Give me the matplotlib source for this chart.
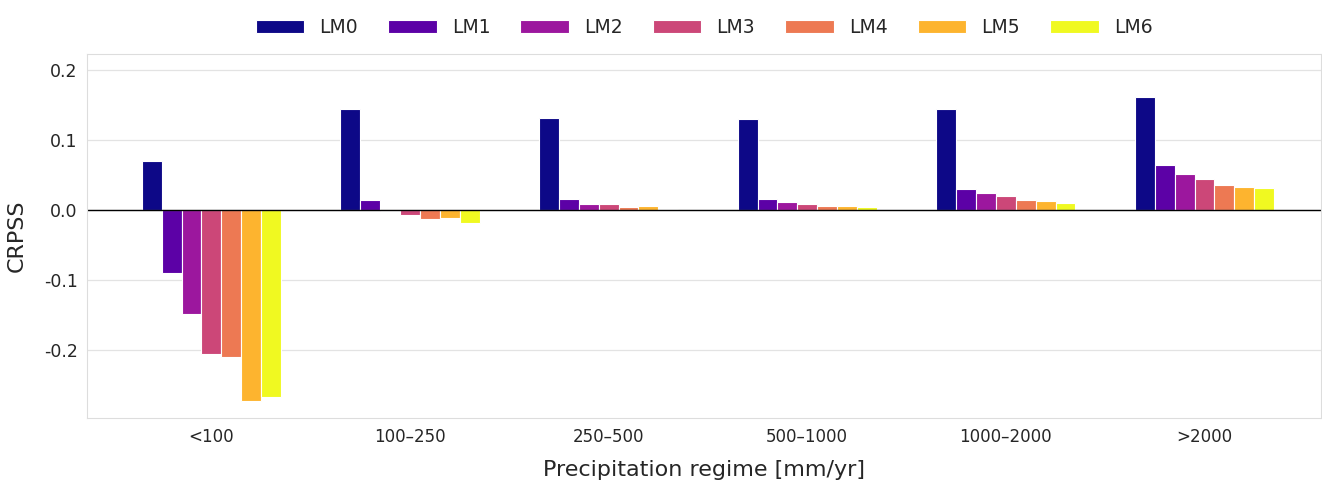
import numpy as np
import matplotlib
matplotlib.use("Agg")
import matplotlib.pyplot as plt
import seaborn as sns

# -----------------------------
# Data
# -----------------------------
regimes = ["<100", "100–250", "250–500", "500–1000", "1000–2000", ">2000"]
models = ["LM0", "LM1", "LM2", "LM3", "LM4", "LM5", "LM6"]

lm0 = [0.070, 0.144, 0.132, 0.130, 0.144, 0.161]
lm1 = [-0.090, 0.014, 0.016, 0.016, 0.030, 0.064]
lm2 = [-0.149, -0.002, 0.009, 0.011, 0.024, 0.051]
lm3 = [-0.206, -0.007, 0.008, 0.009, 0.020, 0.044]
lm4 = [-0.210, -0.013, 0.004, 0.006, 0.014, 0.036]
lm5 = [-0.273, -0.012, 0.006, 0.006, 0.013, 0.033]
lm6 = [-0.267, -0.019, 0.001, 0.004, 0.010, 0.032]
series = [lm0, lm1, lm2, lm3, lm4, lm5, lm6]

# -----------------------------
# Plot
# -----------------------------
sns.set_style("whitegrid")
plt.rcParams["font.family"] = ["DejaVu Sans"]
plt.rcParams["axes.unicode_minus"] = False

fig, ax = plt.subplots(figsize=(13.22, 4.82), dpi=100)
colors = plt.cm.plasma(np.linspace(0, 1, len(models)))

x = np.arange(len(regimes))
width = 0.1
for i, (name, vals) in enumerate(zip(models, series)):
    offset = (i - (len(models) - 1) / 2) * width
    ax.bar(x + offset, vals, width, color=colors[i], label=name,
           edgecolor="white", linewidth=0.8)

ax.axhline(0, color="black", linewidth=1)
ax.set_xticks(x)
ax.set_xticklabels(regimes, fontsize=12)
ax.tick_params(axis="y", labelsize=12.5)
ax.tick_params(axis="x", length=4, color="#cccccc")
ax.set_yticks([-0.2, -0.1, 0.0, 0.1, 0.2])
ax.set_ylim(-0.297, 0.223)
ax.set_xlim(-0.625, 5.585)
ax.grid(axis="x", visible=False)
ax.grid(axis="y", color="#e3e3e3", linewidth=0.9)
for sp in ax.spines.values():
    sp.set_color("#dddddd")

ax.set_xlabel("Precipitation regime [mm/yr]", fontsize=16, labelpad=10)
ax.set_ylabel("CRPSS", fontsize=16, labelpad=12)

ax.legend(loc="lower center", bbox_to_anchor=(0.5, 1.0), ncol=7,
          frameon=False, fontsize=13.5, handlelength=2.6, columnspacing=1.6)

fig.subplots_adjust(left=0.066, right=0.999, top=0.888, bottom=0.133)
fig.savefig("out.png")
